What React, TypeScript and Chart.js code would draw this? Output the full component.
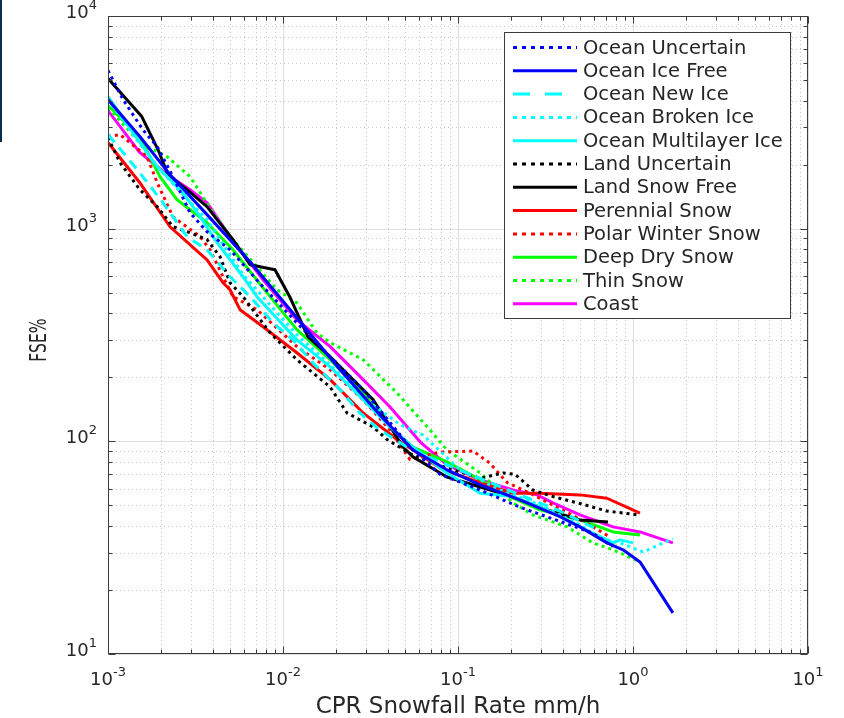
import React, { useEffect, useRef } from "react";
import { Chart, registerables } from "chart.js";

Chart.register(...registerables);

// ---------------- data ----------------
const seriesNames = [
  "Ocean Uncertain",
  "Ocean Ice Free",
  "Ocean New Ice",
  "Ocean Broken Ice",
  "Ocean Multilayer Ice",
  "Land Uncertain",
  "Land Snow Free",
  "Perennial Snow",
  "Polar Winter Snow",
  "Deep Dry Snow",
  "Thin Snow",
  "Coast",
];

const oceanUncertainX = [0.001, 0.00122, 0.00158, 0.00191, 0.00235, 0.00294, 0.00368, 0.00498, 0.00769, 0.012, 0.0186, 0.0287, 0.0532, 0.0789, 0.134, 0.226, 0.383, 0.59, 0.769];
const oceanUncertainY = [5546, 4045, 2922, 2433, 1758, 1189, 968, 796, 533, 361, 250, 175, 94, 70, 59, 49, 42, 37, 32];

const oceanIceFreeX = [0.001, 0.00152, 0.00226, 0.00368, 0.00648, 0.012, 0.0212, 0.0358, 0.0553, 0.0865, 0.134, 0.226, 0.383, 0.498, 0.71, 0.877, 1.096, 1.69];
const oceanIceFreeY = [4045, 2711, 1796, 1164, 699, 381, 217, 133, 91, 73.5, 62.4, 53.1, 44.2, 39.6, 33.3, 30.9, 27.1, 15.6];

const oceanNewIceX = [0.001, 0.00122, 0.00158, 0.00206, 0.00283, 0.00368, 0.00498, 0.00648, 0.00877, 0.0114, 0.0148, 0.0212, 0.0275, 0.0358, 0.0511, 0.0789, 0.134, 0.226, 0.383, 0.647];
const oceanNewIceY = [2770, 2280, 1758, 1325, 917, 796, 594, 479, 361, 300, 234, 175, 136, 113, 94, 80, 67, 56, 47, 38];

const oceanBrokenIceX = [0.001, 0.00139, 0.00191, 0.00268, 0.00368, 0.00591, 0.012, 0.0186, 0.0287, 0.0466, 0.0631, 0.1026, 0.174, 0.294, 0.498, 0.622, 0.843, 1.14, 1.69];
const oceanBrokenIceY = [4045, 2770, 1960, 1445, 1102, 608, 317, 229, 160, 120, 107, 73.5, 59.1, 50.2, 40.5, 35.5, 33.3, 30.2, 34.8];

const oceanMultilayerIceX = [0.001, 0.00139, 0.00191, 0.00268, 0.00336, 0.0042, 0.00591, 0.0071, 0.012, 0.0186, 0.0287, 0.0409, 0.0553, 0.0865, 0.134, 0.206, 0.323, 0.498, 0.769, 0.843, 1.0];
const oceanMultilayerIceY = [4180, 2831, 1960, 1477, 1138, 859, 594, 479, 300, 224, 157, 117, 94, 71, 57, 55, 47.6, 39.6, 33.3, 34.4, 33.3];

const landUncertainX = [0.001, 0.00117, 0.00152, 0.00191, 0.00235, 0.00294, 0.00368, 0.00437, 0.00498, 0.00591, 0.00843, 0.012, 0.0186, 0.0232, 0.0327, 0.0393, 0.0553, 0.0865, 0.134, 0.181, 0.212, 0.268, 0.349, 0.498, 0.71, 1.096];
const landUncertainY = [2681, 2046, 1526, 1269, 1021, 958, 888, 738, 557, 479, 324, 242, 180, 136, 117, 102, 86, 75, 67, 71, 70, 59, 55, 51, 47, 45];

const landSnowFreeX = [0.001, 0.00156, 0.00193, 0.0022, 0.00283, 0.00368, 0.0042, 0.00518, 0.00648, 0.009, 0.011, 0.0139, 0.0186, 0.0327, 0.0485, 0.0553, 0.0865, 0.134, 0.206, 0.323, 0.498, 0.719];
const landSnowFreeY = [5080, 3365, 2355, 1796, 1526, 1269, 1102, 888, 677, 641, 473, 310, 250, 157, 94, 84.5, 68, 61, 54.8, 47.6, 42.7, 41.8];

const perennialSnowX = [0.001, 0.00152, 0.00226, 0.00368, 0.00454, 0.00498, 0.00568, 0.00769, 0.012, 0.0186, 0.0287, 0.0448, 0.0553, 0.082, 0.134, 0.206, 0.294, 0.498, 0.71, 1.096];
const perennialSnowY = [2541, 1645, 1021, 714, 557, 516, 416, 346, 261, 195, 136, 102, 91, 73.5, 64, 57, 57, 56, 54, 46];

const polarWinterSnowX = [0.001, 0.00117, 0.00167, 0.00191, 0.00235, 0.00336, 0.00383, 0.00454, 0.00518, 0.0071, 0.012, 0.0186, 0.0287, 0.0409, 0.0532, 0.0789, 0.122, 0.152, 0.191, 0.258, 0.368, 0.498, 0.739];
const polarWinterSnowY = [2711, 2770, 2183, 1645, 1138, 917, 796, 594, 479, 416, 279, 217, 157, 113, 82, 89, 90, 79, 64, 57, 49, 43, 35.5];

const deepDrySnowX = [0.001, 0.00152, 0.00198, 0.00248, 0.00368, 0.00518, 0.00769, 0.012, 0.0186, 0.0287, 0.0409, 0.0553, 0.0865, 0.134, 0.206, 0.294, 0.498, 0.769, 1.096];
const deepDrySnowY = [3795, 2711, 1758, 1368, 1067, 796, 527, 335, 242, 169, 117, 94, 80, 66, 54, 47.6, 42.7, 37.5, 36.3];

const thinSnowX = [0.001, 0.00152, 0.00217, 0.00294, 0.00398, 0.00518, 0.0071, 0.00925, 0.012, 0.0156, 0.0186, 0.0287, 0.0448, 0.0692, 0.0865, 0.134, 0.206, 0.268, 0.42, 0.59, 0.769, 1.096];
const thinSnowY = [3707, 2541, 2183, 1758, 1189, 888, 662, 516, 448, 324, 291, 242, 169, 113, 91, 71, 51.4, 45.1, 39.6, 33.3, 30.9, 27.1];

const coastX = [0.001, 0.00152, 0.00226, 0.00294, 0.00368, 0.00498, 0.00769, 0.012, 0.0186, 0.0287, 0.0409, 0.0607, 0.0865, 0.134, 0.206, 0.283, 0.349, 0.498, 0.769, 1.096, 1.69];
const coastY = [3592, 2280, 1758, 1526, 1325, 917, 575, 373, 279, 195, 145, 99.5, 77.5, 65.9, 59.1, 56, 51.4, 45.1, 39.6, 37.5, 33.3];

const seriesX = [oceanUncertainX, oceanIceFreeX, oceanNewIceX, oceanBrokenIceX, oceanMultilayerIceX, landUncertainX, landSnowFreeX, perennialSnowX, polarWinterSnowX, deepDrySnowX, thinSnowX, coastX];
const seriesY = [oceanUncertainY, oceanIceFreeY, oceanNewIceY, oceanBrokenIceY, oceanMultilayerIceY, landUncertainY, landSnowFreeY, perennialSnowY, polarWinterSnowY, deepDrySnowY, thinSnowY, coastY];

// axis ticks (decade exponents)
const xTickExponents = [-3, -2, -1, 0, 1];
const yTickExponents = [1, 2, 3, 4];
const minorMultipliers = [2, 3, 4, 5, 6, 7, 8, 9];

const xAxisTitle = "CPR Snowfall Rate mm/h";
const yAxisTitle = "FSE%";

// ---------------- styles ----------------
type LineKind = "solid" | "dotted" | "dashed";
const seriesColors = ["#0000ff", "#0000ff", "#00ffff", "#00ffff", "#00ffff", "#000000", "#000000", "#ff0000", "#ff0000", "#00ff00", "#00ff00", "#ff00ff"];
const seriesKinds: LineKind[] = ["dotted", "solid", "dashed", "dotted", "solid", "dotted", "solid", "solid", "dotted", "solid", "dotted", "solid"];

const FONT = '"DejaVu Sans", sans-serif';
const TEXT_COLOR = "#262626";
const AXIS_COLOR = "#3c3c3c";

function chartDash(kind: LineKind): number[] {
  if (kind === "dotted") return [3, 4];
  if (kind === "dashed") return [10, 7];
  return [];
}
function legendDash(kind: LineKind): number[] {
  if (kind === "dotted") return [4, 5];
  if (kind === "dashed") return [17, 15];
  return [];
}

function drawPow(ctx: CanvasRenderingContext2D, exp: number, x: number, baseline: number, align: "center" | "right") {
  const base = "10";
  const sup = String(exp);
  ctx.font = `18px ${FONT}`;
  const wb = ctx.measureText(base).width;
  ctx.font = `13px ${FONT}`;
  const ws = ctx.measureText(sup).width;
  const total = wb + ws;
  const x0 = align === "center" ? x - total / 2 : x - total;
  ctx.textAlign = "left";
  ctx.textBaseline = "alphabetic";
  ctx.fillStyle = TEXT_COLOR;
  ctx.font = `18px ${FONT}`;
  ctx.fillText(base, x0, baseline);
  ctx.font = `13px ${FONT}`;
  ctx.fillText(sup, x0 + wb, baseline - 9);
}

const matlabPlugin = {
  id: "matlabAxes",
  beforeDatasetsDraw(chart: any) {
    const { ctx, chartArea: a, scales } = chart;
    const xs = scales.x;
    const ys = scales.y;
    ctx.save();
    ctx.fillStyle = "#ffffff";
    ctx.fillRect(a.left, a.top, a.right - a.left, a.bottom - a.top);
    // minor grid (dotted)
    ctx.strokeStyle = "#c6c6c6";
    ctx.lineWidth = 1;
    ctx.setLineDash([1, 3]);
    ctx.beginPath();
    for (let i = 0; i < xTickExponents.length - 1; i++) {
      for (const m of minorMultipliers) {
        const px = Math.round(xs.getPixelForValue(m * Math.pow(10, xTickExponents[i]))) + 0.5;
        ctx.moveTo(px, a.top);
        ctx.lineTo(px, a.bottom);
      }
    }
    for (let i = 0; i < yTickExponents.length - 1; i++) {
      for (const m of minorMultipliers) {
        const py = Math.round(ys.getPixelForValue(m * Math.pow(10, yTickExponents[i]))) + 0.5;
        ctx.moveTo(a.left, py);
        ctx.lineTo(a.right, py);
      }
    }
    ctx.stroke();
    // major grid (solid)
    ctx.setLineDash([]);
    ctx.strokeStyle = "#dedede";
    ctx.beginPath();
    for (const e of xTickExponents) {
      const px = Math.round(xs.getPixelForValue(Math.pow(10, e))) + 0.5;
      ctx.moveTo(px, a.top);
      ctx.lineTo(px, a.bottom);
    }
    for (const e of yTickExponents) {
      const py = Math.round(ys.getPixelForValue(Math.pow(10, e))) + 0.5;
      ctx.moveTo(a.left, py);
      ctx.lineTo(a.right, py);
    }
    ctx.stroke();
    ctx.restore();
  },
  afterDatasetsDraw(chart: any) {
    const { ctx, chartArea: a, scales } = chart;
    const xs = scales.x;
    const ys = scales.y;
    ctx.save();
    // frame
    ctx.strokeStyle = AXIS_COLOR;
    ctx.lineWidth = 1;
    ctx.setLineDash([]);
    const L = Math.round(a.left) + 0.5, R = Math.round(a.right) - 0.5, T = Math.round(a.top) + 0.5, B = Math.round(a.bottom) - 0.5;
    ctx.strokeRect(L, T, R - L, B - T);
    // ticks
    ctx.beginPath();
    const tick = (v: number, isX: boolean, len: number) => {
      if (isX) {
        const px = Math.round(xs.getPixelForValue(v)) + 0.5;
        ctx.moveTo(px, B); ctx.lineTo(px, B - len);
        ctx.moveTo(px, T); ctx.lineTo(px, T + len);
      } else {
        const py = Math.round(ys.getPixelForValue(v)) + 0.5;
        ctx.moveTo(L, py); ctx.lineTo(L + len, py);
        ctx.moveTo(R, py); ctx.lineTo(R - len, py);
      }
    };
    for (let i = 0; i < xTickExponents.length; i++) {
      tick(Math.pow(10, xTickExponents[i]), true, 7);
      if (i < xTickExponents.length - 1) for (const m of minorMultipliers) tick(m * Math.pow(10, xTickExponents[i]), true, 4);
    }
    for (let i = 0; i < yTickExponents.length; i++) {
      tick(Math.pow(10, yTickExponents[i]), false, 7);
      if (i < yTickExponents.length - 1) for (const m of minorMultipliers) tick(m * Math.pow(10, yTickExponents[i]), false, 4);
    }
    ctx.stroke();
    // tick labels
    for (const e of xTickExponents) {
      drawPow(ctx, e, xs.getPixelForValue(Math.pow(10, e)), a.bottom + 31, "center");
    }
    for (const e of yTickExponents) {
      drawPow(ctx, e, a.left - 11, ys.getPixelForValue(Math.pow(10, e)) + 2, "right");
    }
    // axis titles
    ctx.fillStyle = TEXT_COLOR;
    ctx.font = `23px ${FONT}`;
    ctx.textAlign = "center";
    ctx.textBaseline = "alphabetic";
    ctx.fillText(xAxisTitle, (a.left + a.right) / 2, 713);
    ctx.save();
    ctx.translate(46, 340);
    ctx.rotate(-Math.PI / 2);
    ctx.scale(0.68, 1);
    ctx.fillText(yAxisTitle, 0, 0);
    ctx.restore();
    // legend
    const lx = 504.5, ly = 32.5, lw = 286, lh = 286;
    ctx.fillStyle = "#ffffff";
    ctx.fillRect(lx, ly, lw, lh);
    ctx.strokeStyle = AXIS_COLOR;
    ctx.lineWidth = 1;
    ctx.strokeRect(lx, ly, lw, lh);
    chart.data.datasets.forEach((ds: any, i: number) => {
      const rowY = 47.5 + i * 23.3;
      ctx.save();
      ctx.strokeStyle = seriesColors[i];
      ctx.lineWidth = 3;
      ctx.lineCap = "butt";
      ctx.setLineDash(legendDash(seriesKinds[i]));
      ctx.beginPath();
      ctx.moveTo(513, rowY);
      ctx.lineTo(577, rowY);
      ctx.stroke();
      ctx.restore();
      ctx.fillStyle = TEXT_COLOR;
      ctx.font = `19.5px ${FONT}`;
      ctx.textAlign = "left";
      ctx.textBaseline = "middle";
      ctx.fillText(ds.label, 583, rowY + 1);
    });
    ctx.restore();
  },
};

export default function App() {
  const canvasRef = useRef<HTMLCanvasElement | null>(null);
  useEffect(() => {
    if (!canvasRef.current) return;
    const datasets = seriesNames.map((name, i) => ({
      label: name,
      data: seriesX[i].map((x, j) => ({ x, y: seriesY[i][j] })),
      showLine: true,
      borderColor: seriesColors[i],
      backgroundColor: seriesColors[i],
      borderWidth: 3,
      borderDash: chartDash(seriesKinds[i]),
      borderCapStyle: "butt" as const,
      borderJoinStyle: "round" as const,
      pointRadius: 0,
      pointHoverRadius: 0,
      fill: false,
      tension: 0,
    }));
    const chart = new Chart(canvasRef.current, {
      type: "scatter",
      data: { datasets },
      options: {
        animation: false,
        responsive: false,
        maintainAspectRatio: false,
        events: [],
        layout: { padding: { left: 108, right: 36, top: 16, bottom: 64 } },
        plugins: { legend: { display: false }, tooltip: { enabled: false } },
        scales: {
          x: { type: "logarithmic", min: 0.001, max: 10, display: false },
          y: { type: "logarithmic", min: 10, max: 10000, display: false },
        },
      },
      plugins: [matlabPlugin],
    } as any);
    return () => chart.destroy();
  }, []);
  return (
    <div style={{ position: "fixed", left: 0, top: 0, width: 844, height: 718, background: "#ffffff" }}>
      <canvas ref={canvasRef} width={844} height={718} style={{ display: "block" }} />
      <div style={{ position: "absolute", left: 0, top: 0, width: 2, height: 142, background: "#0b2d4a" }} />
    </div>
  );
}
